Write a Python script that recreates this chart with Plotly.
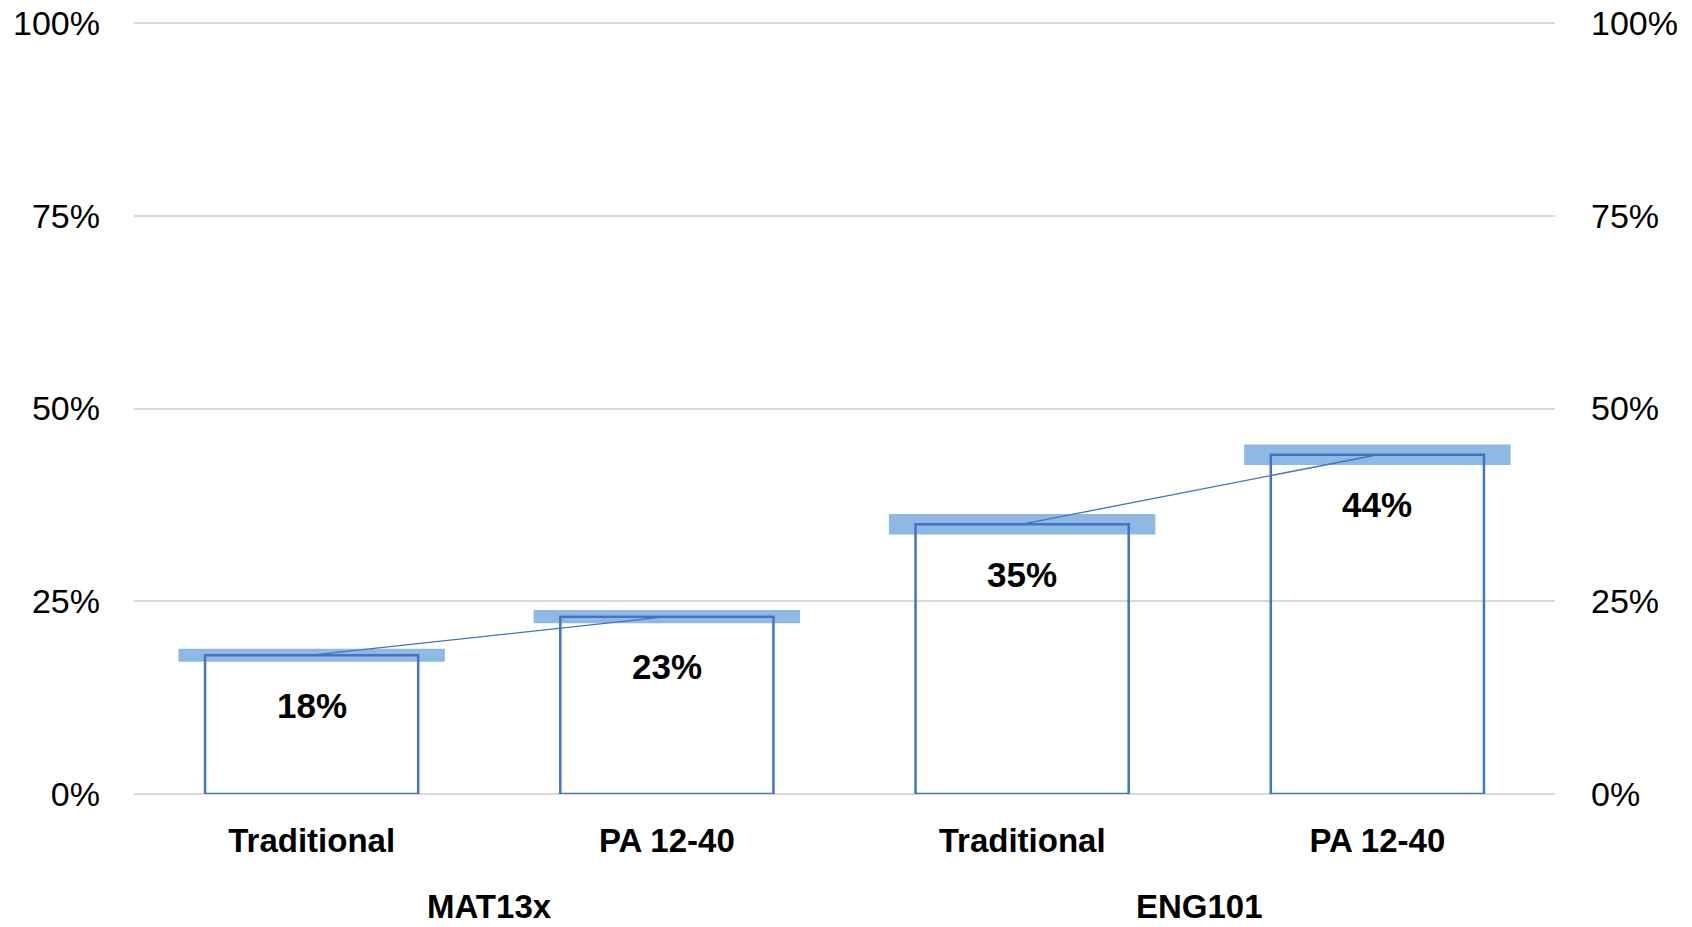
import plotly.graph_objects as go

# Course groups and the delivery format of each bar
groups = ["MAT13x", "ENG101"]
categories = ["Traditional", "PA 12-40", "Traditional", "PA 12-40"]
bar_group = ["MAT13x", "MAT13x", "ENG101", "ENG101"]
# Success rate per bar and the half-height of the shaded band around it
rates = [0.18, 0.23, 0.35, 0.44]
band_half = [0.0085, 0.0085, 0.0133, 0.0133]
y_ticks = [0, 0.25, 0.5, 0.75, 1.0]
y_tick_text = ["0%", "25%", "50%", "75%", "100%"]

FONT = "Liberation Sans"
OUTLINE = "#4472C4"
BAND = "#8FB9E2"
GRID = "#D9D9D9"

x_pos = list(range(len(categories)))

fig = go.Figure()

# Shaded band drawn behind each bar top
fig.add_trace(go.Bar(
    x=x_pos,
    y=[2 * h for h in band_half],
    base=[r - h for r, h in zip(rates, band_half)],
    width=0.75,
    marker=dict(color=BAND, line=dict(width=0)),
    hoverinfo="skip",
    showlegend=False,
))

# Outlined bars with transparent fill
fig.add_trace(go.Bar(
    x=x_pos,
    y=rates,
    width=0.6,
    marker=dict(color="rgba(0,0,0,0)", line=dict(color=OUTLINE, width=2.5)),
    showlegend=False,
))

# Thin connector between the bars of the same course
for g in groups:
    idx = [i for i, bg in enumerate(bar_group) if bg == g]
    fig.add_trace(go.Scatter(
        x=[x_pos[i] for i in idx],
        y=[rates[i] for i in idx],
        mode="lines",
        line=dict(color=OUTLINE, width=1.3),
        hoverinfo="skip",
        showlegend=False,
    ))

# Value labels inside the bars, just under the top edge
for i, r in enumerate(rates):
    fig.add_annotation(
        x=x_pos[i], y=r, xref="x", yref="y",
        text=f"{r:.0%}", showarrow=False,
        yanchor="middle", yshift=-50,
        font=dict(family=FONT, size=35, color="#000000", weight="bold"),
    )

# Course names centred under their pair of bars
for g in groups:
    idx = [i for i, bg in enumerate(bar_group) if bg == g]
    fig.add_annotation(
        x=sum(x_pos[i] for i in idx) / len(idx), y=0,
        xref="x", yref="paper",
        text=g, showarrow=False,
        yanchor="middle", yshift=-112,
        font=dict(family=FONT, size=33, color="#000000", weight="bold"),
    )

# A hair of headroom so the 100% gridline is kept at the top edge
Y_RANGE = [0, 1.0026]

yaxis_common = dict(
    range=Y_RANGE,
    tickvals=y_ticks,
    ticktext=y_tick_text,
    tickfont=dict(family=FONT, size=34, color="#000000"),
    showline=False,
    ticks="",
    fixedrange=True,
    automargin=False,
)

fig.update_layout(
    width=1692,
    height=927,
    margin=dict(l=134, r=137, t=21, b=133),
    paper_bgcolor="white",
    plot_bgcolor="white",
    barmode="overlay",
    showlegend=False,
    xaxis=dict(
        range=[-0.5, len(categories) - 0.5],
        tickvals=x_pos,
        ticktext=categories,
        tickfont=dict(family=FONT, size=33, color="#000000", weight="bold"),
        showgrid=False,
        zeroline=False,
        showline=False,
        ticks="",
        ticklabelstandoff=24,
        automargin=False,
    ),
    yaxis=dict(
        **yaxis_common,
        showgrid=True,
        gridcolor=GRID,
        gridwidth=2,
        zeroline=True,
        zerolinecolor=GRID,
        zerolinewidth=2,
        ticklabelstandoff=33,
    ),
    yaxis2=dict(
        **yaxis_common,
        overlaying="y",
        side="right",
        showgrid=False,
        zeroline=False,
        ticklabelstandoff=35,
    ),
)

# Invisible trace so the right-hand axis is rendered
fig.add_trace(go.Scatter(
    x=[x_pos[0]], y=[rates[0]], yaxis="y2",
    mode="markers", marker=dict(opacity=0),
    hoverinfo="skip", showlegend=False,
))

fig.write_html("out.html")
